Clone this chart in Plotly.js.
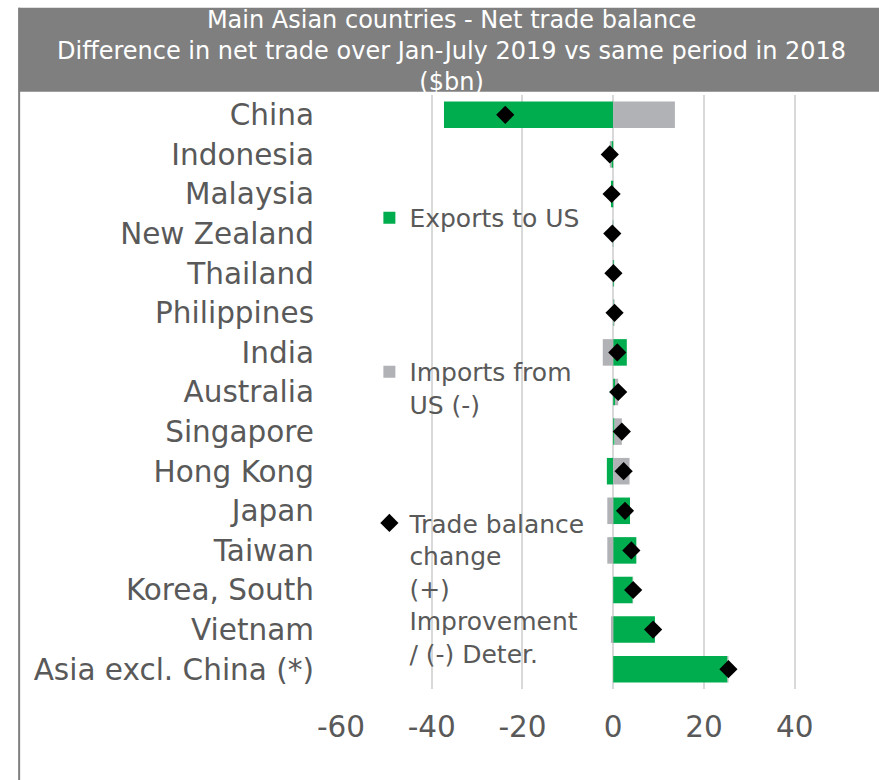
<!DOCTYPE html>
<html>
<head>
<meta charset="utf-8">
<script src="https://cdn.plot.ly/plotly-3.0.1.min.js"></script>
<style>html,body{margin:0;padding:0;background:#fff;}</style>
</head>
<body>
<div id="chart" style="width:879px;height:780px;"></div>
<script>
const categories = ['China','Indonesia','Malaysia','New Zealand','Thailand','Philippines','India','Australia','Singapore','Hong Kong','Japan','Taiwan','Korea, South','Vietnam','Asia excl. China (*)'];
const exportsToUS = [-37.3, -0.4, -0.5, -0.05, 0.2, 0.1, 3.0, 0.4, 0.3, -1.4, 3.7, 5.1, 4.3, 9.2, 25.2];
const importsFromUS = [13.6, -0.35, 0.15, -0.15, -0.15, 0.2, -2.3, 0.7, 1.6, 3.6, -1.3, -1.3, 0.1, -0.5, 0.2];
const balanceChange = [-23.8, -0.75, -0.35, -0.2, 0.05, 0.3, 0.9, 1.1, 1.9, 2.3, 2.6, 4.0, 4.4, 8.8, 25.4];
const xTicks = [-60, -40, -20, 0, 20, 40];
const titleText = 'Main Asian countries - Net trade balance<br>Difference in net trade over Jan-July 2019 vs same period in 2018<br>($bn)';

const FONT = 'DejaVu Sans, Verdana, sans-serif';
const TXT = '#595959';

const traces = [
  {type:'bar', orientation:'h', name:'Exports to US', y:categories, x:exportsToUS,
   marker:{color:'#00ad4e', line:{width:0}}, legend:'legend'},
  {type:'bar', orientation:'h', name:'Imports from<br>US (-)', y:categories, x:importsFromUS,
   marker:{color:'#b1b2b6', line:{width:0}}, legend:'legend2'},
  {type:'scatter', mode:'markers', name:'Trade balance<br>change<br>(+)<br>Improvement<br>/ (-) Deter.', y:categories, x:balanceChange,
   marker:{symbol:'diamond', size:14, color:'#000000'}, legend:'legend3'}
];

const L = 340.6, R = 879, T = 95.2, B = 688.8;
const W = R - L, H = B - T;
const px = v => (v - L) / W;
const py = v => (B - v) / H;

const legendBase = {bgcolor:'rgba(0,0,0,0)', font:{family:FONT, size:25, color:TXT}, valign:'top', xanchor:'left', yanchor:'middle', itemwidth:30};

const layout = {
  width:879, height:780,
  margin:{l:L, r:0, t:T, b:780-B, pad:0},
  paper_bgcolor:'#ffffff', plot_bgcolor:'#ffffff',
  barmode:'relative', bargap:0.33,
  showlegend:true,
  xaxis:{range:[-60, -60 + W/4.54], tickvals:xTicks, ticktext:xTicks.map(String), showgrid:true, gridcolor:'#d9d9d9', gridwidth:2,
         zeroline:false, showline:false, ticks:'', tickfont:{family:FONT, size:29.5, color:TXT}, ticklabelstandoff:17, fixedrange:true},
  yaxis:{type:'category', categoryarray:categories, range:[categories.length - 0.5, -0.5], showgrid:false, zeroline:false, showline:false,
         ticks:'', tickfont:{family:FONT, size:29.5, color:TXT}, ticklabelstandoff:26, fixedrange:true},
  legend:Object.assign({}, legendBase, {x:px(369), y:py(218)}),
  legend2:Object.assign({}, legendBase, {x:px(369), y:py(388)}),
  legend3:Object.assign({}, legendBase, {x:px(369), y:py(588)}),
  annotations:[
    {text:titleText, xref:'paper', yref:'paper', x:px(451), y:py(4), xanchor:'center', yanchor:'top', showarrow:false,
     font:{family:FONT, size:24, color:'#ffffff'}, align:'center'}
  ],
  shapes:[
    {type:'rect', xref:'paper', yref:'paper', x0:px(18), x1:1.01, y0:py(92), y1:py(8), fillcolor:'#7f7f7f', line:{width:0}, layer:'below'},
    {type:'line', xref:'paper', yref:'paper', x0:px(18.5), x1:px(18.5), y0:py(8), y1:py(790), line:{color:'#7f7f7f', width:2}, layer:'below'}
  ]
};

Plotly.newPlot('chart', traces, layout, {displayModeBar:false, staticPlot:true});
</script>
</body>
</html>
